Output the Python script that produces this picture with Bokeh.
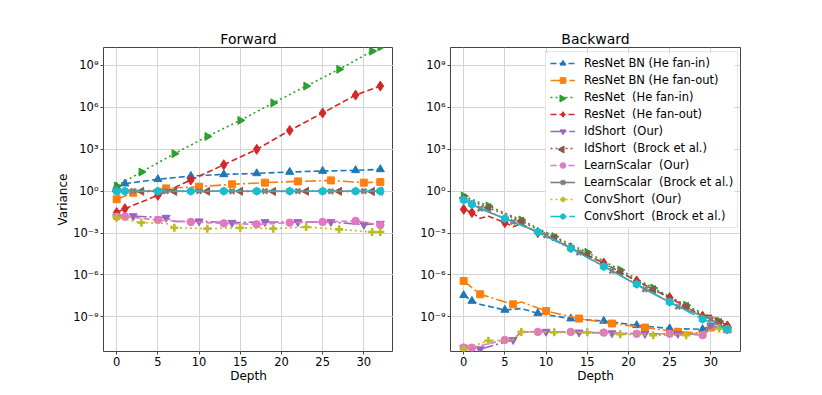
import math
from bokeh.plotting import figure
from bokeh.layouts import row
from bokeh.models import (Range1d, FixedTicker, CustomJSTickFormatter, Legend, LegendItem,
                          BoxAnnotation)
from bokeh.embed import file_html
from bokeh.resources import INLINE

# ---------------- data (variance given as log10 exponent) ----------------
marks_a = [0, 1, 5, 9, 13, 17, 21, 25, 29, 32]
marks_b = [0, 2, 6, 10, 14, 18, 22, 26, 30, 32]
marks_c = [0, 3, 7, 11, 15, 19, 23, 27, 31, 32]

labels = ["ResNet BN (He fan-in)", "ResNet BN (He fan-out)", "ResNet  (He fan-in)",
          "ResNet  (He fan-out)", "IdShort  (Our)", "IdShort  (Brock et al.)",
          "LearnScalar  (Our)", "LearnScalar  (Brock et al.)", "ConvShort  (Our)",
          "ConvShort  (Brock et al.)"]

# Forward
fwd_bn_in_d = [0, 1, 5, 9, 13, 17, 21, 25, 29, 32]
fwd_bn_in_e = [0.30, 0.53, 0.84, 1.07, 1.19, 1.26, 1.36, 1.43, 1.48, 1.55]
fwd_bn_out_d = [0, 2, 6, 10, 14, 18, 22, 26, 30, 32]
fwd_bn_out_e = [-0.59, -0.12, 0.19, 0.31, 0.48, 0.60, 0.69, 0.76, 0.60, 0.64]
fwd_res_in_d = [0, 3, 7, 11, 15, 19, 23, 27, 31, 32]
fwd_res_in_e = [0.36, 1.36, 2.67, 3.90, 5.05, 6.30, 7.50, 8.70, 10.00, 10.30]
fwd_res_out_d = [0, 1, 5, 9, 13, 17, 21, 25, 29, 32]
fwd_res_out_e = [-1.54, -1.26, -0.31, 0.79, 1.88, 2.98, 4.33, 5.58, 6.86, 7.50]
fwd_id_our_d = [0, 2, 6, 7, 10, 14, 18, 22, 26, 30, 32]
fwd_id_our_e = [-1.85, -1.79, -1.90, -2.18, -2.16, -2.26, -2.21, -2.21, -2.21, -2.40, -2.33]
fwd_id_brock_d = [0, 3, 7, 11, 15, 19, 23, 27, 31, 32]
fwd_id_brock_e = [0.00, -0.02, -0.03, -0.02, -0.02, -0.03, -0.02, -0.02, -0.03, -0.02]
fwd_ls_our_d = [0, 1, 5, 9, 13, 17, 21, 25, 29, 32]
fwd_ls_our_e = [-1.83, -1.83, -2.07, -2.21, -2.31, -2.38, -2.26, -2.21, -2.14, -2.43]
fwd_ls_brock_d = [0, 2, 6, 10, 14, 18, 22, 26, 30, 32]
fwd_ls_brock_e = [0.00, -0.01, -0.01, -0.01, -0.02, -0.01, -0.01, -0.02, -0.01, -0.01]
fwd_cs_our_d = [0, 3, 6, 7, 11, 15, 19, 23, 27, 31, 32]
fwd_cs_our_e = [-1.90, -2.26, -2.30, -2.62, -2.69, -2.62, -2.69, -2.57, -2.74, -2.93, -2.93]
fwd_cs_brock_d = [0, 1, 5, 9, 13, 17, 21, 25, 29, 32]
fwd_cs_brock_e = [-0.01, -0.01, -0.01, -0.01, -0.01, -0.01, -0.01, -0.01, -0.01, -0.01]

# Backward
bwd_bn_in_d = [0, 1, 2, 5, 7, 9, 13, 17, 21, 25, 29, 30, 32]
bwd_bn_in_e = [-7.45, -7.86, -8.10, -8.50, -8.40, -8.74, -9.12, -9.29, -9.60, -9.83, -9.88, -9.65, -9.95]
bwd_bn_out_d = [0, 2, 6, 7, 10, 14, 18, 22, 26, 29, 30, 32]
bwd_bn_out_e = [-6.43, -7.38, -8.10, -7.93, -8.57, -9.12, -9.47, -9.76, -10.07, -10.15, -9.76, -9.88]
bwd_res_in_d = [0, 3, 7, 11, 15, 19, 23, 27, 31, 32]
bwd_res_in_e = [-0.36, -1.07, -2.07, -3.26, -4.38, -5.64, -6.93, -8.16, -9.30, -9.80]
bwd_res_out_d = [0, 1, 2, 3, 5, 6, 7, 9, 13, 17, 21, 25, 29, 30, 32]
bwd_res_out_e = [-1.31, -1.54, -1.95, -1.80, -2.26, -2.55, -2.35, -2.97, -4.05, -5.15, -6.43, -7.62, -8.95, -8.88, -9.64]
bwd_id_our_d = [0, 2, 6, 7, 10, 14, 18, 22, 26, 29, 30, 32]
bwd_id_our_e = [-11.19, -11.30, -10.64, -10.07, -10.05, -10.10, -10.16, -10.20, -10.20, -10.25, -9.60, -9.90]
bwd_id_brock_d = [0, 3, 7, 11, 15, 19, 23, 27, 31, 32]
bwd_id_brock_e = [-0.50, -1.19, -2.15, -3.35, -4.55, -5.80, -7.05, -8.25, -9.40, -9.85]
bwd_ls_our_d = [0, 1, 5, 6, 7, 9, 13, 17, 21, 25, 29, 30, 32]
bwd_ls_our_e = [-11.19, -11.20, -10.64, -10.60, -10.07, -10.07, -10.07, -10.12, -10.20, -10.20, -10.30, -9.90, -9.88]
bwd_ls_brock_d = [0, 2, 6, 10, 14, 18, 22, 26, 30, 32]
bwd_ls_brock_e = [-0.60, -1.26, -2.20, -3.16, -4.40, -5.71, -7.02, -8.26, -9.16, -9.85]
bwd_cs_our_d = [0, 3, 6, 7, 11, 15, 19, 23, 27, 31, 32]
bwd_cs_our_e = [-11.30, -10.70, -10.64, -10.07, -10.10, -10.10, -10.24, -10.30, -10.30, -9.83, -9.88]
bwd_cs_brock_d = [0, 1, 5, 9, 13, 17, 21, 25, 29, 32]
bwd_cs_brock_e = [-0.64, -0.95, -1.97, -2.93, -4.10, -5.40, -6.66, -7.93, -9.16, -9.88]

x_ticks = [0, 5, 10, 15, 20, 25, 30]
y_ticks = [1e-9, 1e-6, 1e-3, 1e0, 1e3, 1e6, 1e9]

# ---------------- styles ----------------
FONT = "DejaVu Sans"
colors = ["#1f77b4", "#ff7f0e", "#2ca02c", "#d62728", "#9467bd",
          "#8c564b", "#e377c2", "#7f7f7f", "#bcbd22", "#17becf"]
DASH = "6 3"
DASHDOT = "11 3 2 3"
DOT = "2 3"
dashes = [DASH, DASHDOT, DOT, DASH, DASHDOT, DOT, DASH, "solid", DOT, DASHDOT]
markers = [("triangle", 0.0, 8), ("square", 0.0, 7), ("triangle", -math.pi / 2, 8),
           ("diamond", 0.0, 10), ("inverted_triangle", 0.0, 8), ("triangle", math.pi / 2, 8),
           ("circle", 0.0, 7.5), ("x", 0.0, 7), ("cross", 0.0, 8), ("hex", math.pi / 6, 8)]
mark_sets = [marks_a, marks_b, marks_c, marks_a, marks_b, marks_c, marks_a, marks_b, marks_c, marks_a]

fwd = [(fwd_bn_in_d, fwd_bn_in_e), (fwd_bn_out_d, fwd_bn_out_e), (fwd_res_in_d, fwd_res_in_e),
       (fwd_res_out_d, fwd_res_out_e), (fwd_id_our_d, fwd_id_our_e), (fwd_id_brock_d, fwd_id_brock_e),
       (fwd_ls_our_d, fwd_ls_our_e), (fwd_ls_brock_d, fwd_ls_brock_e), (fwd_cs_our_d, fwd_cs_our_e),
       (fwd_cs_brock_d, fwd_cs_brock_e)]
bwd = [(bwd_bn_in_d, bwd_bn_in_e), (bwd_bn_out_d, bwd_bn_out_e), (bwd_res_in_d, bwd_res_in_e),
       (bwd_res_out_d, bwd_res_out_e), (bwd_id_our_d, bwd_id_our_e), (bwd_id_brock_d, bwd_id_brock_e),
       (bwd_ls_our_d, bwd_ls_our_e), (bwd_ls_brock_d, bwd_ls_brock_e), (bwd_cs_our_d, bwd_cs_our_e),
       (bwd_cs_brock_d, bwd_cs_brock_e)]

sup_js = """
const e = Math.round(Math.log10(tick));
const m = {'-':'\u207b','0':'\u2070','1':'\u00b9','2':'\u00b2','3':'\u00b3','4':'\u2074',
           '5':'\u2075','6':'\u2076','7':'\u2077','8':'\u2078','9':'\u2079'};
return '10' + String(e).split('').map(c => m[c]).join('');
"""

FW, FH = 290, 304
X0, X1 = -1.6, 33.6
LY0, LY1 = -11.47, 10.26


def make_fig(title, ylabel, left, right):
    p = figure(output_backend="svg", toolbar_location=None, title=title,
               frame_width=FW, frame_height=FH,
               min_border_left=left, min_border_right=right,
               min_border_top=47, min_border_bottom=36,
               x_range=Range1d(X0, X1),
               y_range=Range1d(10 ** LY0, 10 ** LY1), y_axis_type="log")
    p.title.align = "center"
    p.title.text_font = FONT
    p.title.text_font_size = "14px"
    p.title.text_font_style = "normal"
    p.title.text_color = "black"
    p.title.standoff = 2
    p.outline_line_color = "#444444"
    p.outline_line_width = 1
    p.background_fill_color = "white"
    p.border_fill_color = "white"
    for ax in (p.xaxis[0], p.yaxis[0]):
        ax.axis_line_color = None
        ax.major_tick_line_color = "#444444"
        ax.major_tick_out = 3
        ax.major_tick_in = 0
        ax.minor_tick_line_color = None
        ax.major_label_text_font = FONT
        ax.major_label_text_font_size = "11.5px"
        ax.major_label_text_color = "black"
        ax.axis_label_text_font = FONT
        ax.axis_label_text_font_size = "12px"
        ax.axis_label_text_font_style = "normal"
        ax.axis_label_text_color = "black"
        ax.major_label_standoff = 2
    p.xaxis[0].ticker = FixedTicker(ticks=x_ticks)
    p.yaxis[0].ticker = FixedTicker(ticks=y_ticks)
    p.yaxis[0].formatter = CustomJSTickFormatter(code=sup_js)
    p.xaxis[0].axis_label = "Depth"
    p.xaxis[0].axis_label_standoff = 0
    if ylabel:
        p.yaxis[0].axis_label = ylabel
        p.yaxis[0].axis_label_standoff = 0
    p.xgrid.grid_line_color = "#d4d4d4"
    p.ygrid.grid_line_color = "#d4d4d4"
    p.xgrid.grid_line_width = 1
    p.ygrid.grid_line_width = 1
    return p


def px_to_data(px, py):
    return (X0 + px / FW * (X1 - X0), 10 ** (LY1 - py / FH * (LY1 - LY0)))


p1 = make_fig("Forward", "Variance", 103, 0)
p2 = make_fig("Backward", None, 57, 74)

# legend geometry (screen px inside the right frame)
LEG_X, LEG_BOTTOM = 95, 123
PAD, GW, GH, SP = 4, 25, 14, 3
n_items = len(labels)
leg_h = n_items * GH + (n_items - 1) * SP + 2 * PAD
leg_top_px = FH - LEG_BOTTOM - leg_h

# white legend background drawn beneath the data so legend symbols can sit on it
bl, bt = px_to_data(LEG_X, leg_top_px)
br, bb = px_to_data(FW - 6, FH - LEG_BOTTOM)
p2.add_layout(BoxAnnotation(left=bl, right=br, top=bt, bottom=bb, fill_color="white",
                            fill_alpha=1.0, line_color=None, level="underlay"))


def draw(p, series):
    items = []
    for i, (d, e) in enumerate(series):
        col = colors[i]
        vals = [10 ** v for v in e]
        lr = p.line(d, vals, line_color=col, line_width=1.6, line_dash=dashes[i])
        lookup = dict(zip(d, vals))
        md = [k for k in mark_sets[i] if k in lookup]
        mv = [lookup[k] for k in md]
        mk, ang, sz = markers[i]
        if mk in ("x", "cross"):
            sr = p.scatter(md, mv, marker=mk, size=sz, angle=ang, line_color=col, line_width=2.6)
        else:
            sr = p.scatter(md, mv, marker=mk, size=sz, angle=ang, fill_color=col, line_color=col)
        items.append((lr, sr))
    return items


draw(p1, fwd)
rends = draw(p2, bwd)

leg_items = []
rotated = []
for i, (lr, sr) in enumerate(rends):
    if markers[i][1] != 0.0 and markers[i][0] == "triangle":
        leg_items.append(LegendItem(label=labels[i], renderers=[lr]))
        rotated.append(i)
    else:
        leg_items.append(LegendItem(label=labels[i], renderers=[lr, sr]))

legend = Legend(items=leg_items, location=(LEG_X, LEG_BOTTOM))
legend.label_text_font = FONT
legend.label_text_font_size = "11.5px"
legend.label_text_color = "black"
legend.glyph_width = GW
legend.glyph_height = GH
legend.label_height = GH
legend.spacing = SP
legend.padding = PAD
legend.margin = 0
legend.label_standoff = 9
legend.border_line_color = "#cccccc"
legend.background_fill_alpha = 0.0
p2.add_layout(legend)

# rotated legend symbols (Bokeh draws legend markers unrotated)
for i in rotated:
    cx = LEG_X + PAD + GW / 2
    cy = leg_top_px + PAD + i * (GH + SP) + GH / 2
    lx, ly = px_to_data(cx, cy)
    p2.scatter([lx], [ly], marker="triangle", size=7, angle=markers[i][1],
               fill_color=colors[i], line_color=colors[i])

layout = row(p1, p2)
open("out.html", "w").write(file_html(layout, INLINE))
